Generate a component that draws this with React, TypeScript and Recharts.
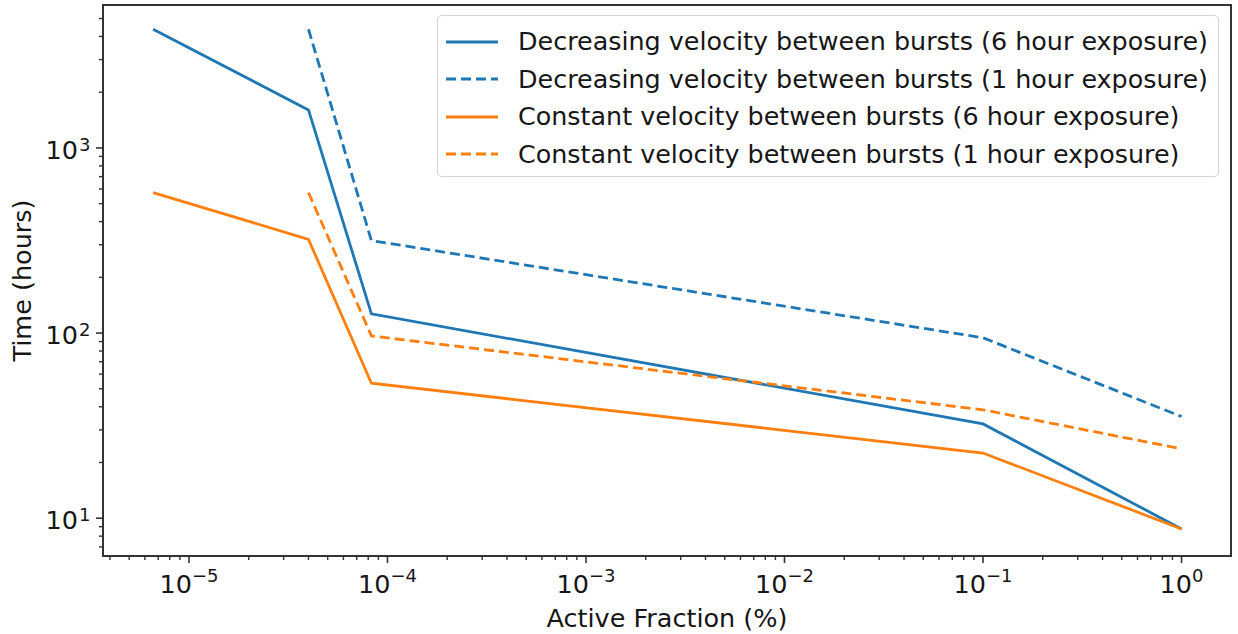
import React from 'react';
import { LineChart, Line, XAxis, YAxis, Legend, ReferenceArea } from 'recharts';

// ---- data ----
const activeFraction = [6.6e-6, 4.0e-5, 8.3e-5, 0.1, 1];
const decreasing6h = [4375, 1604, 127, 32.3, 8.75];
const decreasing1h = [null, 4375, 316, 94.3, 35.4];
const constant6h = [574, 321, 53.6, 22.5, 8.75];
const constant1h = [null, 574, 96.5, 38.5, 23.7];

const xMajorTicks = [1e-5, 1e-4, 1e-3, 1e-2, 1e-1, 1];
const xMajorExponents = ['−5', '−4', '−3', '−2', '−1', '0'];
const yMajorTicks = [10, 100, 1000];
const yMajorExponents = ['1', '2', '3'];
const minorMultipliers = [2, 3, 4, 5, 6, 7, 8, 9];
const xDecades = [1e-6, 1e-5, 1e-4, 1e-3, 1e-2, 1e-1, 1];
const yDecades = [1, 10, 100, 1000];

const xDomain: [number, number] = [3.69e-6, 1.775];
const yDomain: [number, number] = [6.25, 5916];

const seriesDefs = [
  { key: 'dec6', name: 'Decreasing velocity between bursts (6 hour exposure)', color: '#1f77b4', dash: undefined as string | undefined },
  { key: 'dec1', name: 'Decreasing velocity between bursts (1 hour exposure)', color: '#1f77b4', dash: '10 5' },
  { key: 'con6', name: 'Constant velocity between bursts (6 hour exposure)', color: '#ff7f0e', dash: undefined as string | undefined },
  { key: 'con1', name: 'Constant velocity between bursts (1 hour exposure)', color: '#ff7f0e', dash: '10 5' },
];

const data = activeFraction.map((x, i) => ({
  x,
  dec6: decreasing6h[i],
  dec1: decreasing1h[i],
  con6: constant6h[i],
  con1: constant1h[i],
}));

const minorTicks = (decades: number[], dom: [number, number]) => {
  const out: number[] = [];
  decades.forEach((d) => minorMultipliers.forEach((m) => {
    const v = d * m;
    if (v >= dom[0] && v <= dom[1]) out.push(v);
  }));
  return out;
};

const xMinor = minorTicks(xDecades, xDomain);
const yMinor = minorTicks(yDecades, yDomain);
const xTicks = [...xMajorTicks, ...xMinor].sort((a, b) => a - b);
const yTicks = [...yMajorTicks, ...yMinor].sort((a, b) => a - b);

const FONT = '"DejaVu Sans", sans-serif';
const TEXT = '#161616';
const AXIS = '#333';
const TICK_FS = 25.5;
const SUP_FS = 18;
const LABEL_FS = 25.5;

const isMajor = (arr: number[], v: number) => arr.findIndex((t) => Math.abs(t - v) / t < 1e-9);

const XTick = (props: any) => {
  const { x, y, payload } = props;
  const idx = isMajor(xMajorTicks, payload.value);
  if (idx < 0) {
    return <line x1={x} x2={x} y1={y} y2={y + 4} stroke={AXIS} strokeWidth={1.4} />;
  }
  return (
    <g>
      <line x1={x} x2={x} y1={y} y2={y + 7} stroke={AXIS} strokeWidth={1.6} />
      <text x={x} y={y + 37} textAnchor="middle" fontFamily={FONT} fontSize={TICK_FS} fill={TEXT}>
        <tspan>10</tspan>
        <tspan dy={-11} fontSize={SUP_FS}>{xMajorExponents[idx]}</tspan>
      </text>
    </g>
  );
};

const YTick = (props: any) => {
  const { x, y, payload } = props;
  const idx = isMajor(yMajorTicks, payload.value);
  if (idx < 0) {
    return <line x1={x} x2={x - 4} y1={y} y2={y} stroke={AXIS} strokeWidth={1.4} />;
  }
  return (
    <g>
      <line x1={x} x2={x - 7} y1={y} y2={y} stroke={AXIS} strokeWidth={1.6} />
      <text x={x - 25} y={y + 11} textAnchor="end" fontFamily={FONT} fontSize={TICK_FS} fill={TEXT}>10</text>
      <text x={x - 24} y={y + 3} textAnchor="start" fontFamily={FONT} fontSize={SUP_FS} fill={TEXT}>{yMajorExponents[idx]}</text>
    </g>
  );
};

const LegendContent = () => (
  <div
    style={{
      boxSizing: 'border-box',
      width: 782,
      height: 162,
      border: '1.5px solid #d4d4d4',
      borderRadius: 5,
      background: 'rgba(255,255,255,0.85)',
      paddingTop: 7,
    }}
  >
    {seriesDefs.map((s) => (
      <div key={s.key} style={{ display: 'flex', alignItems: 'center', height: 37.5 }}>
        <svg width={52} height={10} style={{ marginLeft: 8, marginRight: 20, display: 'block' }}>
          <line x1={0} x2={52} y1={5} y2={5} stroke={s.color} strokeWidth={2.8} strokeDasharray={s.dash} />
        </svg>
        <span style={{ fontFamily: FONT, fontSize: 25.4, color: TEXT, whiteSpace: 'nowrap', lineHeight: '37.5px' }}>{s.name}</span>
      </div>
    ))}
  </div>
);

const YLabel = (props: any) => {
  const vb = props.viewBox || { x: 0, y: 5, width: 103, height: 551 };
  const cx = vb.x + 22;
  const cy = vb.y + vb.height / 2;
  return (
    <text x={cx} y={cy} transform={`rotate(-90 ${cx} ${cy})`} textAnchor="middle" dominantBaseline="central" fontFamily={FONT} fontSize={LABEL_FS} fill={TEXT}>
      Time (hours)
    </text>
  );
};

const XLabel = (props: any) => {
  const vb = props.viewBox || { x: 103, y: 556, width: 1128, height: 78 };
  const cx = vb.x + vb.width / 2;
  return (
    <text x={cx} y={vb.y + 71} textAnchor="middle" fontFamily={FONT} fontSize={LABEL_FS} fill={TEXT}>
      Active Fraction (%)
    </text>
  );
};

export default function App() {
  return (
    <div style={{ position: 'absolute', left: 0, top: 0, background: '#fff' }}>
      <LineChart width={1238} height={634} data={data} margin={{ top: 5, right: 7, bottom: 0, left: 0 }}>
        <XAxis
          dataKey="x"
          type="number"
          scale="log"
          domain={xDomain}
          allowDataOverflow
          ticks={xTicks}
          interval={0}
          tickSize={0}
          tickMargin={0}
          tickLine={false}
          tick={<XTick />}
          height={78}
          axisLine={{ stroke: AXIS, strokeWidth: 2 }}
          label={<XLabel />}
        />
        <YAxis
          type="number"
          scale="log"
          domain={yDomain}
          allowDataOverflow
          ticks={yTicks}
          interval={0}
          tickSize={0}
          tickMargin={0}
          tickLine={false}
          tick={<YTick />}
          width={103}
          axisLine={{ stroke: AXIS, strokeWidth: 2 }}
          label={<YLabel />}
        />
        <ReferenceArea x1={xDomain[0]} x2={xDomain[1]} y1={yDomain[0]} y2={yDomain[1]} fill="none" stroke={AXIS} strokeWidth={2} ifOverflow="visible" />
        {seriesDefs.map((s) => (
          <Line
            key={s.key}
            dataKey={s.key}
            name={s.name}
            type="linear"
            stroke={s.color}
            strokeWidth={2.8}
            strokeDasharray={s.dash}
            dot={false}
            activeDot={false}
            connectNulls={false}
            isAnimationActive={false}
          />
        ))}
        <Legend
          layout="horizontal"
          verticalAlign="middle"
          align="center"
          content={<LegendContent />}
          wrapperStyle={{ left: 437, top: 15, width: 782, height: 162 }}
        />
      </LineChart>
    </div>
  );
}
